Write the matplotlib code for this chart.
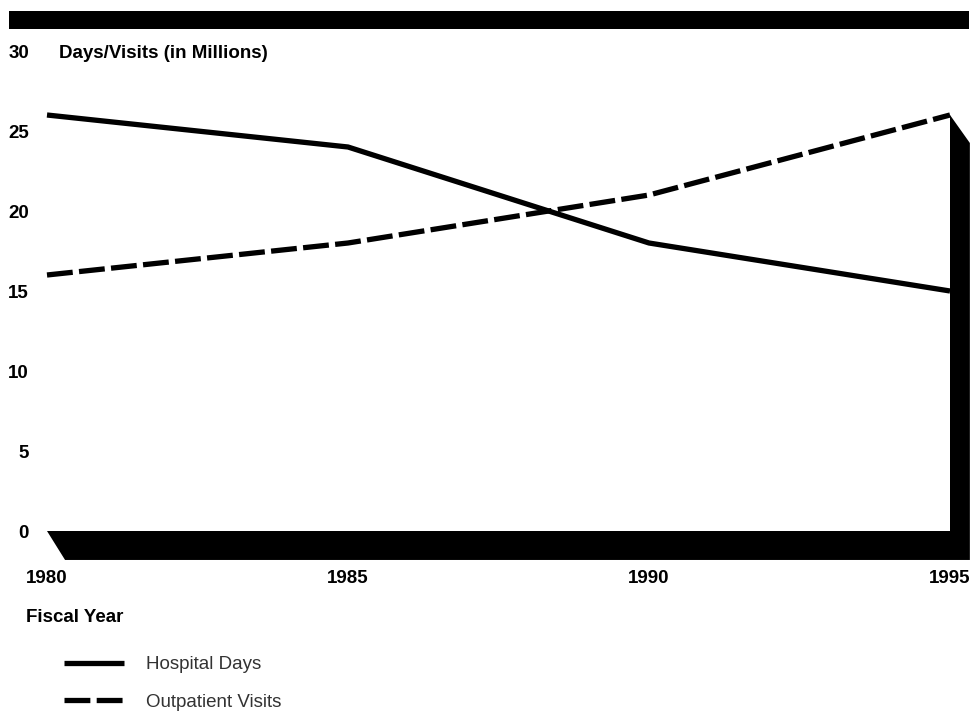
import matplotlib
matplotlib.use('Agg')
import matplotlib.pyplot as plt
from matplotlib.patches import Polygon, Rectangle

years = [1980, 1985, 1990, 1995]
hospital_days = [26, 24, 18, 15]
outpatient_visits = [16, 18, 21, 26]
y_ticks = [0, 5, 10, 15, 20, 25, 30]

W, H = 974, 713
plt.rcParams['font.family'] = ['Liberation Sans', 'DejaVu Sans']

fig = plt.figure(figsize=(W / 100, H / 100), dpi=100)
# plot area: 1980 -> x=47px, 1995 -> x=950px, 0 -> y=531px, 30 -> y=51px
ax = fig.add_axes([47 / W, (H - 531) / H, (950 - 47) / W, (531 - 51) / H])
ax.set_xlim(1980, 1995)
ax.set_ylim(0, 30)
for s in ax.spines.values():
    s.set_visible(False)

# heavy black base and right wall
frame = Polygon([(1980, 0), (1995, 0), (1995, 26), (1995.33, 24.25),
                 (1995.33, -1.81), (1980.3, -1.81)],
                closed=True, facecolor='black', edgecolor='none',
                clip_on=False, zorder=1)
ax.add_patch(frame)

l1, = ax.plot(years, hospital_days, color='black', lw=3.8,
              solid_capstyle='butt', solid_joinstyle='round', zorder=3,
              clip_on=False, label='Hospital Days')
l2, = ax.plot(years, outpatient_visits, color='black', lw=3.8,
              linestyle=(0, (4.9, 1.2)), dash_capstyle='butt', zorder=3,
              clip_on=False, label='Outpatient Visits')

ax.set_yticks(y_ticks)
ax.set_yticklabels([str(v) for v in y_ticks])
ax.set_xticks(years)
ax.set_xticklabels([str(v) for v in years])
ax.tick_params(axis='y', length=0, pad=13, labelsize=13.5)
ax.tick_params(axis='x', length=0, pad=28, labelsize=13.5)
for lab in ax.get_xticklabels() + ax.get_yticklabels():
    lab.set_fontweight('bold')

# black banner across the top
fig.patches.append(Rectangle((9 / W, 1 - 29 / H), (969 - 9) / W, 18 / H,
                             transform=fig.transFigure, facecolor='black',
                             edgecolor='none'))

fig.text(59 / W, 1 - 54 / H, 'Days/Visits (in Millions)', fontsize=13.5,
         fontweight='bold', va='center', ha='left')
fig.text(26 / W, 1 - 617 / H, 'Fiscal Year', fontsize=13.5,
         fontweight='bold', va='center', ha='left')

leg = fig.legend(handles=[l1, l2], loc='upper left',
                 bbox_to_anchor=(64 / W, 1 - 656 / H), frameon=False,
                 borderpad=0, borderaxespad=0, handlelength=3.2,
                 handletextpad=1.15, labelspacing=1.1, fontsize=13.5)
for t in leg.get_texts():
    t.set_color('#333333')

fig.savefig('out.png', dpi=100)
